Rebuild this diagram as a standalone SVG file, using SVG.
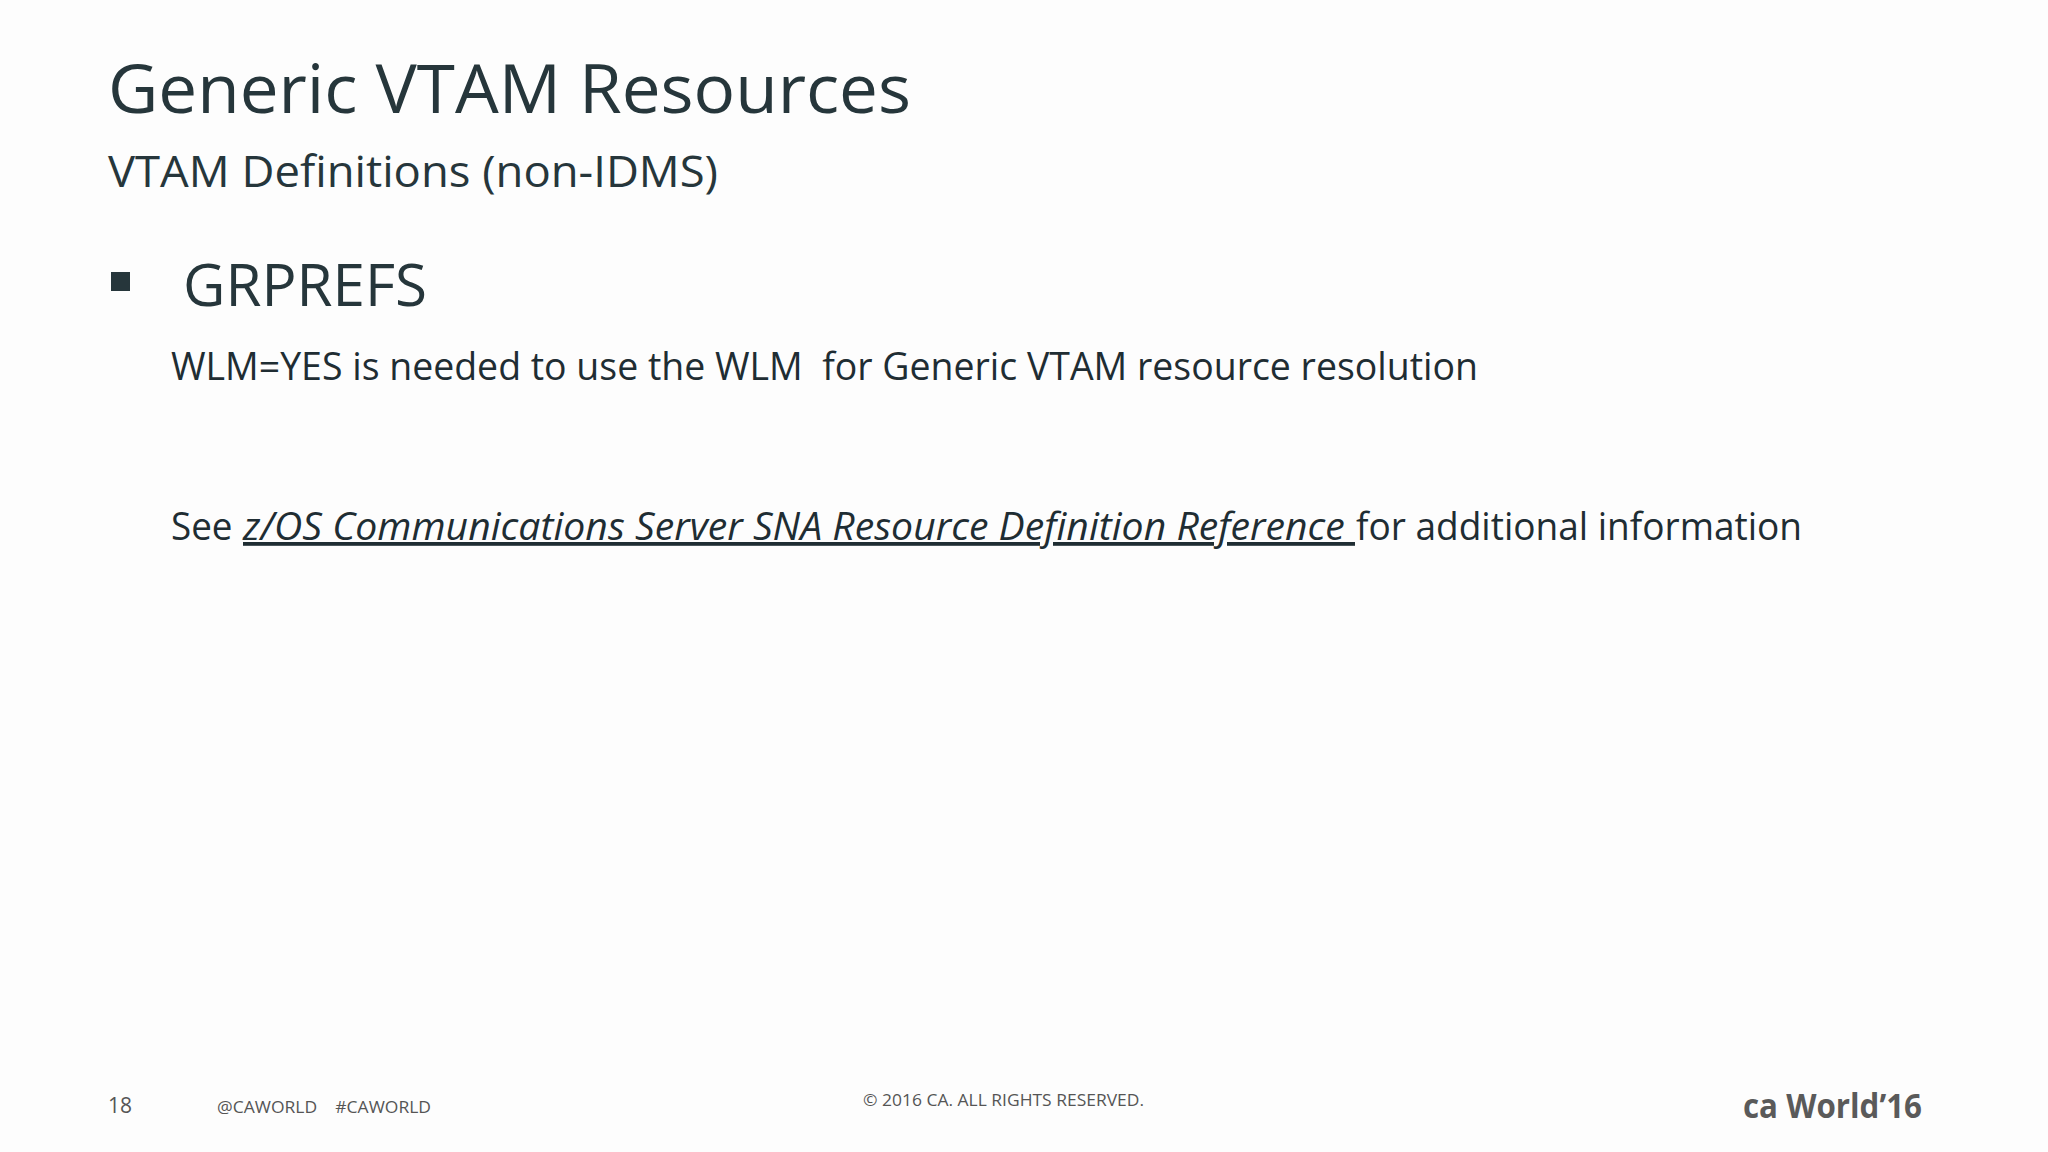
<svg xmlns="http://www.w3.org/2000/svg" width="2048" height="1152" viewBox="0 0 2048 1152">
<style>
text{font-family:"Open Sans","Liberation Sans",sans-serif;fill:#26363b}
.body{font-size:38px;fill:#1f2d33}
.foot{font-size:17px;fill:#555}
</style>
<rect width="2048" height="1152" fill="#fdfdfd"/>
<g id="title"><text x="108" y="113" font-size="68" textLength="803" lengthAdjust="spacingAndGlyphs">Generic VTAM Resources</text></g>
<g id="subtitle"><text x="108" y="187" font-size="44" textLength="610" lengthAdjust="spacingAndGlyphs">VTAM Definitions (non-IDMS)</text></g>
<g id="bullet"><rect x="111" y="272" width="19" height="19" fill="#26363b"/>
<text x="183" y="306" font-size="58" textLength="244" lengthAdjust="spacingAndGlyphs">GRPREFS</text></g>
<g id="line1"><text class="body" x="171" y="380" xml:space="preserve" textLength="1307" lengthAdjust="spacingAndGlyphs">WLM=YES is needed to use the WLM  for Generic VTAM resource resolution</text></g>
<g id="line2"><text class="body" x="171" y="540">
<tspan textLength="71" lengthAdjust="spacingAndGlyphs">See </tspan><tspan x="243" font-style="italic" text-decoration="underline" textLength="1112" lengthAdjust="spacingAndGlyphs">z/OS Communications Server SNA Resource Definition Reference </tspan><tspan x="1356" textLength="446" lengthAdjust="spacingAndGlyphs">for additional information</tspan></text></g>
<g id="footer">
<text class="foot" x="108" y="1113" style="font-size:21px">18</text>
<text class="foot" x="217" y="1113" xml:space="preserve" textLength="214" lengthAdjust="spacingAndGlyphs">@CAWORLD    #CAWORLD</text>
<text class="foot" x="863" y="1106" textLength="281" lengthAdjust="spacingAndGlyphs">© 2016 CA. ALL RIGHTS RESERVED.</text>
<text x="1743" y="1118" font-size="34" font-weight="bold" style="fill:#5a5a5a" textLength="179" lengthAdjust="spacingAndGlyphs">ca World’16</text>
</g>
</svg>
